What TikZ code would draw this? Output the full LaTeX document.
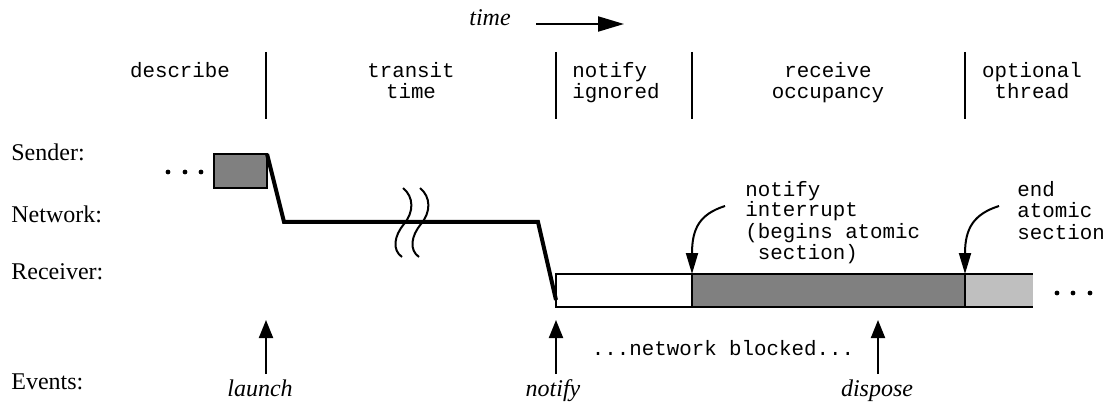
\documentclass[tikz,border=0pt]{standalone}
\usepackage{fontspec}
\setmainfont{Liberation Serif}
\setmonofont{Liberation Mono}
\usetikzlibrary{arrows.meta}

\definecolor{busy}{gray}{0.5}
\definecolor{spare}{gray}{0.75}

\begin{document}
\begin{tikzpicture}[x=0.5pt, y=-0.5pt, line join=miter,
    row/.style={anchor=base west, inner sep=0pt, font=\fontsize{12}{14}\selectfont},
    evt/.style={anchor=base, inner sep=0pt, font=\fontsize{12}{14}\selectfont\itshape},
    phase/.style={anchor=base, inner sep=0pt, align=center, font=\fontsize{10.4}{10.5}\selectfont\ttfamily},
    note/.style={anchor=base west, inner sep=0pt, align=left, font=\fontsize{10.4}{10.5}\selectfont\ttfamily},
    divider/.style={line width=1pt},
    slot/.style={draw, line width=1.2pt, inner sep=0pt, outer sep=0pt, anchor=north west, minimum height=16.5pt},
    wire/.style={line width=2pt},
    pointer/.style={-{Triangle[length=9pt, width=7pt]}, line width=1pt},
    callout/.style={-{Triangle[length=10.5pt, width=6pt]}, line width=1pt}]
  \useasboundingbox (0, 0) rectangle (1112, 406);

  \node [evt] (time) at (490, 26) {time};
  \coordinate (t0) at (536, 24);
  \coordinate (t1) at (624, 24);
  \draw [-{Triangle[length=13pt, width=7.5pt]}, line width=1pt] (t0) -- (t1);

  \foreach \x in {266, 556, 692, 965}
    \draw [divider] (\x, 52) -- (\x, 119);

  \node [phase] (describe) at (180, 78) {describe};
  \node [phase] (transit) at (411, 99) {transit\\time};
  \node [phase, align=left] (ignored) at (616, 99) {notify\\ignored};
  \node [phase] (occupancy) at (828, 99) {receive\\occupancy};
  \node [phase] (thread) at (1032, 99) {optional\\thread};

  \node [row] (sender) at (11, 161) {Sender:};
  \node [row] (network) at (11, 222) {Network:};
  \node [row] (receiver) at (11, 279) {Receiver:};
  \node [row] (events) at (11, 389) {Events:};

  \node [slot, fill=busy, minimum width=26.5pt, minimum height=17pt] (sbox) at (214, 154) {};
  \foreach \x in {168, 185, 201}
    \fill (\x, 172) circle (1.2pt);

  \node [slot, fill=white, minimum width=68pt] (white) at (556, 274) {};
  \node [slot, fill=busy, minimum width=136.5pt] (dark) at (692, 274) {};
  \node [slot, draw=none, fill=spare, minimum width=34pt] (light) at (965, 274) {};
  \draw [line width=1.2pt] (light.north west) -- (light.north east) (light.south west) -- (light.south east);
  \draw [line width=1.2pt] (dark.north east) -- (dark.south east);
  \foreach \x in {1057, 1073, 1090}
    \fill (\x, 293) circle (1.2pt);

  \coordinate (n1) at (284, 222);
  \coordinate (n2) at (538, 222);
  \coordinate (n3) at (556, 300);
  \draw [wire] (sbox.north east) -- (n1) -- (n2) -- (n3);
  \foreach \dx in {0, 17}
    \draw [line width=1pt, xshift=\dx*0.5pt] (403, 188) .. controls (414, 197) and (414, 212) .. (404, 224) .. controls (394, 236) and (392, 250) .. (402, 257);

  \node [note] (intr) at (745, 259) {notify\\interrupt\\(begins atomic\\\phantom{(}section)};
  \coordinate (i0) at (725, 206);
  \draw [callout] (i0) .. controls (700, 214) and (692, 228) .. (white.north east);
  \node [note] (endsec) at (1017, 239) {end\\atomic\\section};
  \coordinate (e0) at (999, 206);
  \draw [callout] (e0) .. controls (974, 214) and (965, 228) .. (dark.north east);

  \node [phase] (blocked) at (723, 355) {...network blocked...};

  \node [evt] (launch) at (260, 396) {launch};
  \node [evt] (notify) at (553, 396) {notify};
  \node [evt] (dispose) at (877, 396) {dispose};
  \coordinate (l0) at (266, 374);
  \coordinate (l1) at (266, 320);
  \coordinate (f0) at (556, 374);
  \coordinate (f1) at (556, 320);
  \coordinate (d0) at (878, 374);
  \coordinate (d1) at (878, 320);
  \draw [pointer] (l0) -- (l1);
  \draw [pointer] (f0) -- (f1);
  \draw [pointer] (d0) -- (d1);
\end{tikzpicture}
\end{document}
